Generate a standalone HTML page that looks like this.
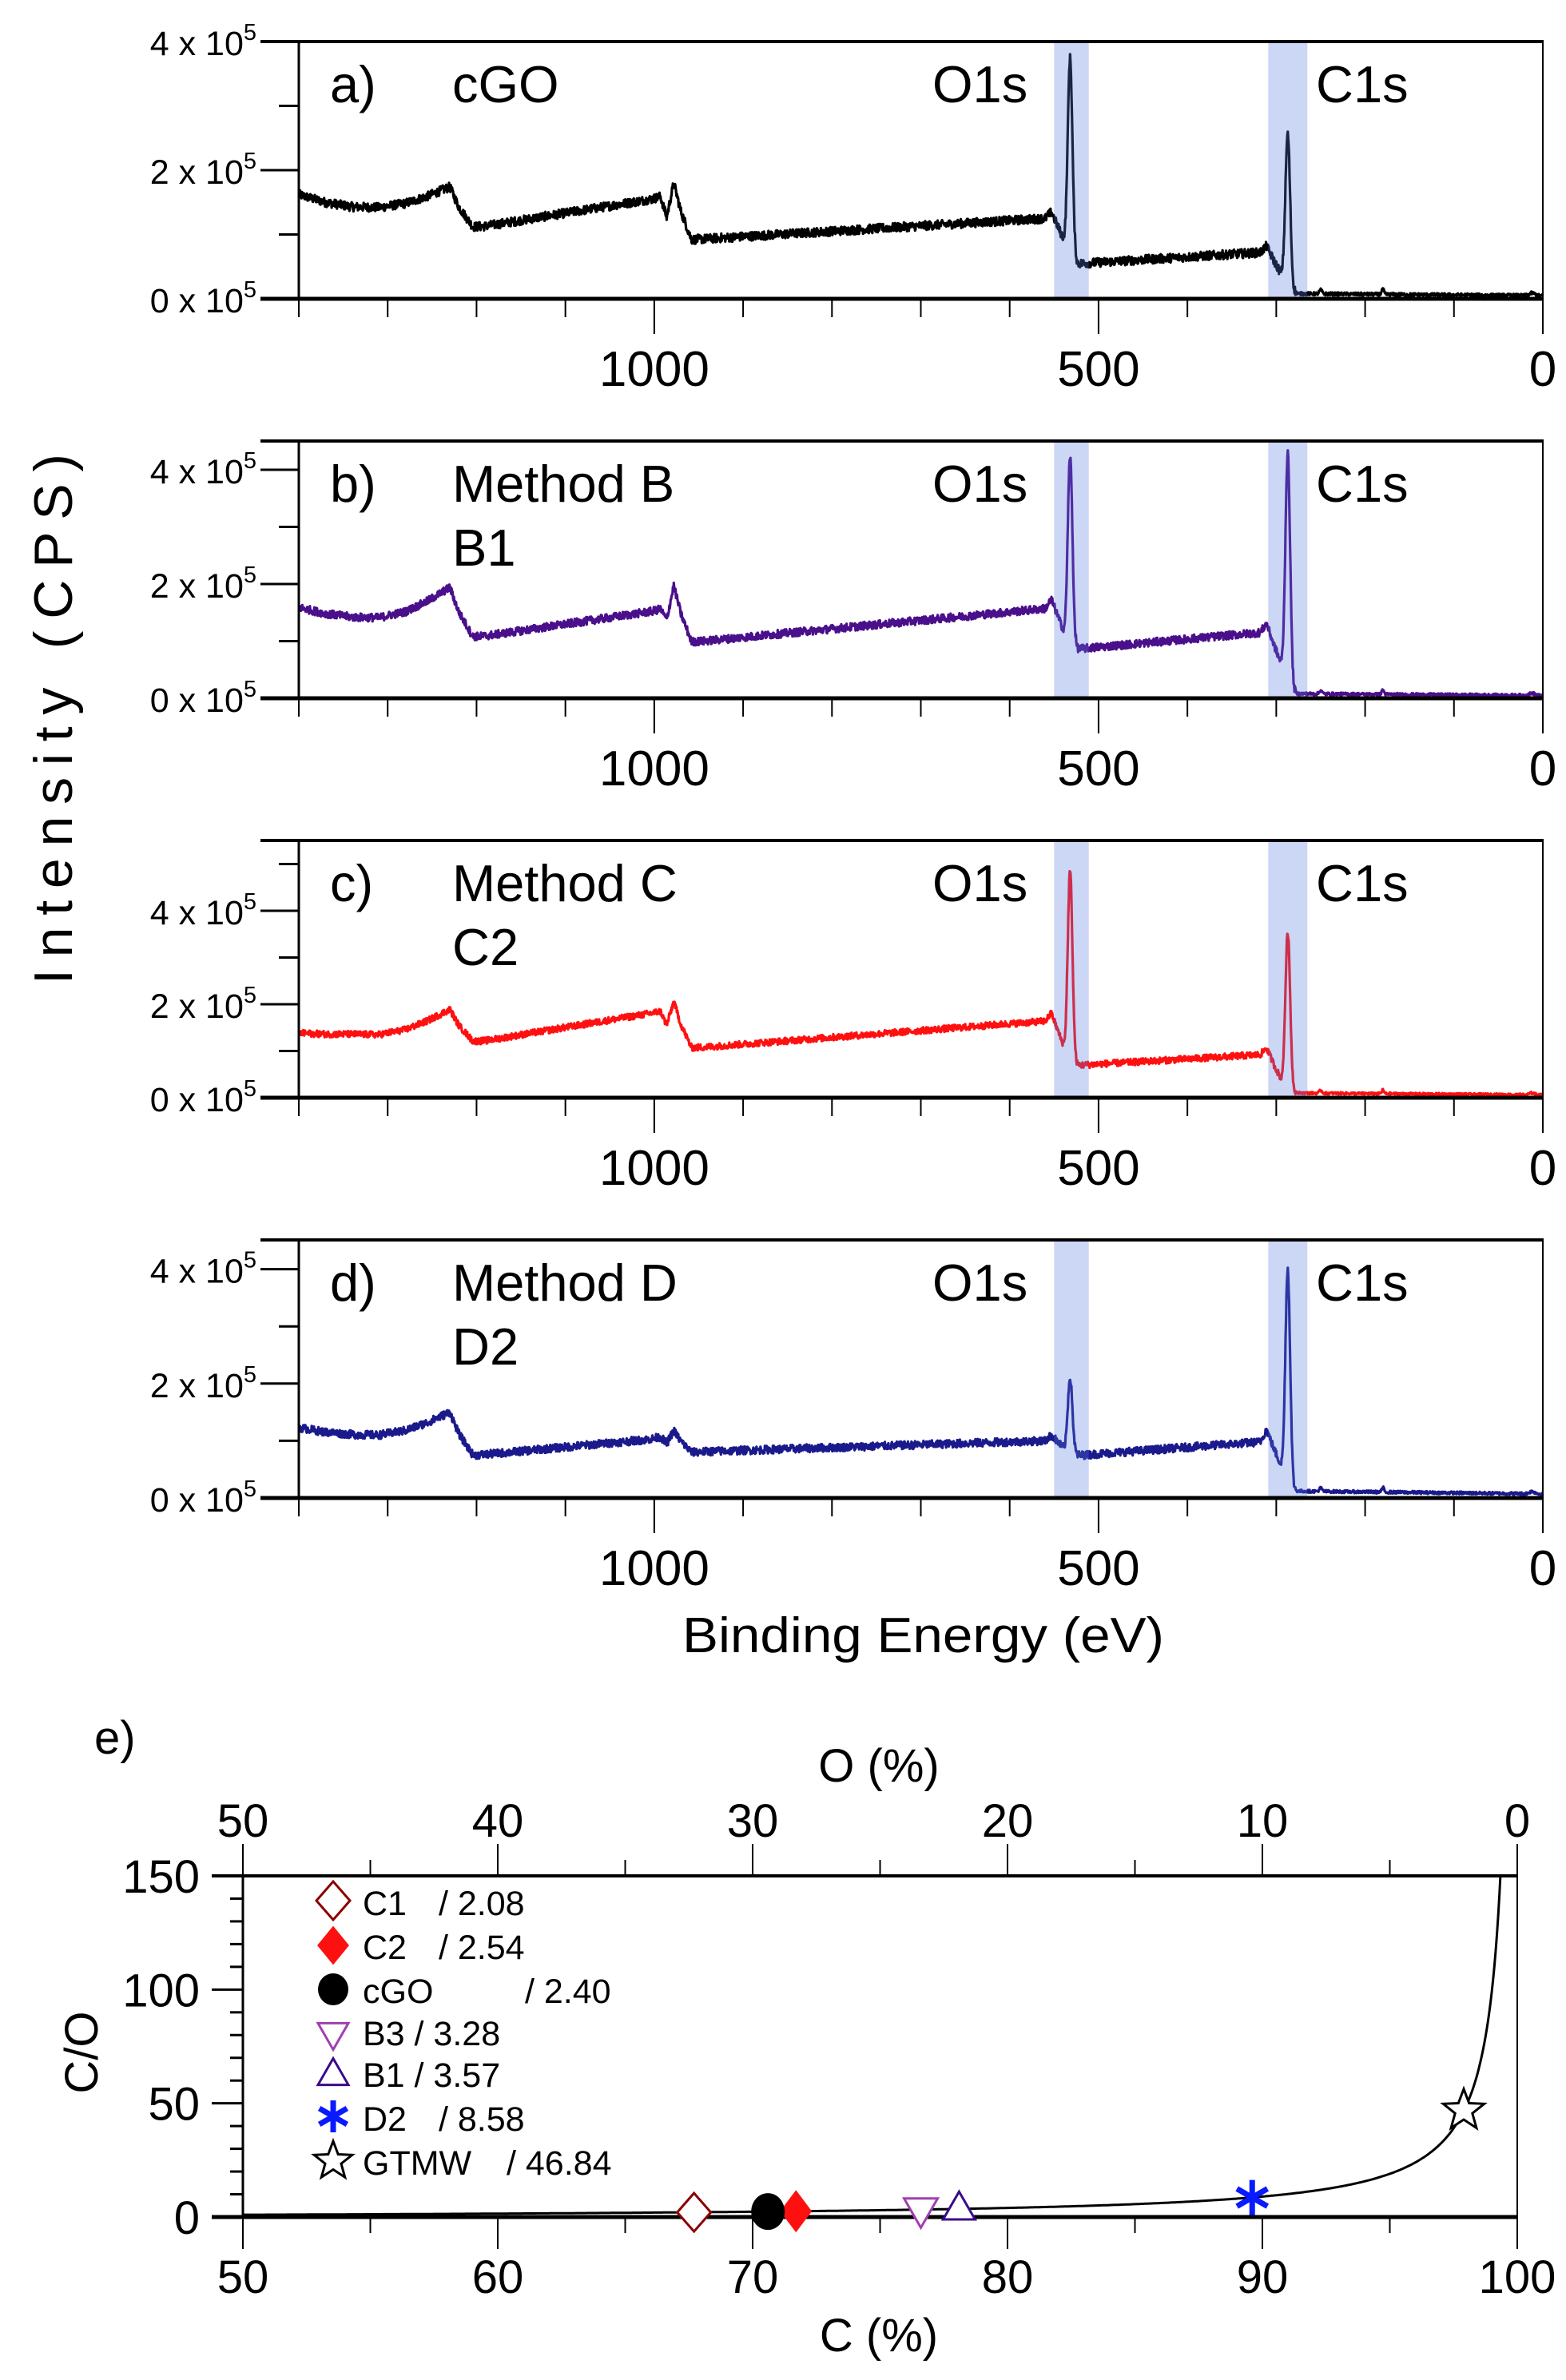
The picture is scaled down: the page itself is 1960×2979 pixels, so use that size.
<!DOCTYPE html>
<html><head><meta charset="utf-8"><style>
html,body{margin:0;padding:0;background:#fff;}
svg{display:block;font-family:"Liberation Sans",Arial,sans-serif;}
</style></head><body>
<svg id="s" width="1960" height="2979" viewBox="0 0 1960 2979" xmlns="http://www.w3.org/2000/svg">
<rect width="1960" height="2979" fill="#fff"/>
<g id="panels"></g>
<text x="0" y="0" font-size="68" textLength="664" lengthAdjust="spacing" text-anchor="middle" transform="translate(90,900) rotate(-90)">Intensity (CPS)</text>
<text x="854" y="2068" font-size="62" textLength="603" lengthAdjust="spacingAndGlyphs">Binding Energy (eV)</text>

<defs><clipPath id="ce"><rect x="304" y="2348" width="1595" height="430"/></clipPath></defs>
<text x="118" y="2195" font-size="58">e)</text>
<text x="1100" y="2230" font-size="58" text-anchor="middle">O (%)</text>
<text x="1100" y="2943" font-size="58" text-anchor="middle">C (%)</text>
<text x="0" y="0" font-size="58" text-anchor="middle" transform="translate(122,2569) rotate(-90)">C/O</text>
<g id="eaxes"></g>
<path id="curve" d="" fill="none" stroke="#000" stroke-width="3" clip-path="url(#ce)"/>
<g id="emark"></g>
<g font-size="43" id="legend">
<text x="454" y="2397">C1</text><text x="549" y="2397">/ 2.08</text>
<text x="454" y="2452">C2</text><text x="549" y="2452">/ 2.54</text>
<text x="454" y="2507">cGO</text><text x="657" y="2507">/ 2.40</text>
<text x="454" y="2560">B3 / 3.28</text>
<text x="454" y="2612">B1 / 3.57</text>
<text x="454" y="2667">D2</text><text x="549" y="2667">/ 8.58</text>
<text x="454" y="2722">GTMW</text><text x="634" y="2722">/ 46.84</text>
</g>
</svg>
<script>
(function(){
var NS="http://www.w3.org/2000/svg";
function el(tag,attrs,parent,txt){var e=document.createElementNS(NS,tag);for(var k in attrs)e.setAttribute(k,attrs[k]);if(txt!==undefined)e.textContent=txt;parent.appendChild(e);return e;}
var seed=12345;function rnd(){seed=(seed*1103515245+12345)%2147483648;return seed/2147483648;}
var X0=374,X1=1931;function xE(E){return X0+(1400-E)/1400*(X1-X0);}
var panels=[
 {top:52,zero:374,s:80.5,col:"#000",minor:[1,3],lab:"a)",n1:"cGO",n2:"",
  p:{L0:1.62,Lmin:1.42,P1:1.74,D1:1.12,R1:1.55,dp:1.27,P2:1.80,D2:0.92,R2:1.25,bO:1.35,dO:0.85,Opk:3.74,D3:0.55,R3:0.72,bC:0.82,dC:0.38,Cpk:2.56,tail:0.08}},
 {top:552,zero:874,s:71.5,col:"#4a0f8a",minor:[1,3],lab:"b)",n1:"Method B",n2:"B1",
  p:{L0:1.59,Lmin:1.41,P1:1.94,D1:1.08,R1:1.52,dp:1.38,P2:1.97,D2:0.99,R2:1.57,bO:1.73,dO:1.08,Opk:4.23,D3:0.87,R3:1.15,bC:1.31,dC:0.59,Cpk:4.27,tail:0.08}},
 {top:1052,zero:1374,s:58.5,col:"#ff1010",minor:[1,3,5],lab:"c)",n1:"Method C",n2:"C2",
  p:{L0:1.38,Lmin:1.35,P1:1.89,D1:1.21,R1:1.81,dp:1.55,P2:2.06,D2:1.07,R2:1.64,bO:1.81,dO:0.98,Opk:4.85,D3:0.70,R3:0.92,bC:1.07,dC:0.38,Cpk:3.54,tail:0.10}},
 {top:1552,zero:1875,s:71.6,col:"#1a1a8c",minor:[1,3],lab:"d)",n1:"Method D",n2:"D2",
  p:{L0:1.23,Lmin:1.10,P1:1.50,D1:0.75,R1:1.03,dp:0.95,P2:1.18,D2:0.80,R2:1.0,bO:1.10,dO:0.83,Opk:2.10,D3:0.75,R3:0.98,bC:1.20,dC:0.55,Cpk:4.0,tail:0.12}}
];
var G=document.getElementById("panels");
panels.forEach(function(P){
 var p=P.p;
 var k=[[1400,p.L0],[1370,p.L0-(p.L0-p.Lmin)*0.6],[1340,p.Lmin+0.01],[1310,p.Lmin],[1280,p.Lmin+(p.P1-p.Lmin)*0.2],[1255,p.Lmin+(p.P1-p.Lmin)*0.55],[1230,p.P1],[1220,(p.P1+p.D1)/2],[1204,p.D1],[1190,p.D1+0.01],
  [1003,p.R1],[993,p.R1+0.04],[986,p.dp],[978,p.P2],[970,(p.P2+p.D2)/2],[958,p.D2],[945,p.D2+0.01],
  [560,p.R2],[553,p.bO],[545,(p.bO+p.dO)/2],[537,p.dO],[533,p.dO],[524,p.D3],[518,p.D3],
  [318,p.R3],[311,p.bC],[303,(p.bC+p.dC)/2],[294,p.dC],[289,p.dC],[280,p.tail+0.04],[276,p.tail],[0,p.tail*0.6]];
 function base(E){for(var i=0;i<k.length-1;i++){if(E<=k[i][0]&&E>=k[i+1][0]){var t=(k[i][0]-E)/(k[i][0]-k[i+1][0]);return k[i][1]+t*(k[i+1][1]-k[i][1]);}}return p.tail*0.6;}
 var aO=p.Opk-base(532),aC=p.Cpk-base(287);
 function g(E,c,s){return Math.exp(-(E-c)*(E-c)/(2*s*s));}
 var d="";
 for(var E=1400;E>=0;E-=0.5){
  var v=base(E)+aO*g(E,532,2.6)+aC*g(E,287,2.6)+0.06*g(E,250,1.5)+0.08*g(E,180,1.2)+0.04*g(E,12,3);
  var amp=E>278?0.07:0.025; v+= (rnd()-0.5)*2*amp;
  var y=P.zero-v*P.s; d+=(d?"L":"M")+xE(E).toFixed(1)+" "+y.toFixed(1);
 }
 el("path",{d:d,fill:"none",stroke:P.col,"stroke-width":3.2,"stroke-linejoin":"round"},G);
 [[550,511],[309,265]].forEach(function(b){var xa=xE(b[0]),xb=xE(b[1]);
  el("rect",{x:xa,y:P.top,width:xb-xa,height:P.zero-P.top,fill:"rgba(85,118,222,0.3)"},G);});
 el("line",{x1:X0,y1:P.top,x2:X0,y2:P.zero,stroke:"#000","stroke-width":3},G);
 el("line",{x1:X1,y1:P.top,x2:X1,y2:P.zero,stroke:"#000","stroke-width":2},G);
 el("line",{x1:X0-48,y1:P.top,x2:X1+1,y2:P.top,stroke:"#000","stroke-width":4},G);
 el("line",{x1:X0-48,y1:P.zero,x2:X1+1,y2:P.zero,stroke:"#000","stroke-width":5},G);
 [0,2,4].forEach(function(v){var y=P.zero-v*P.s;
  el("line",{x1:X0-48,y1:y,x2:X0,y2:y,stroke:"#000","stroke-width":3},G);
  var t=el("text",{x:321,y:y+17,"font-size":43,"text-anchor":"end"},G);
  el("tspan",{},t,v+" x 10");el("tspan",{"font-size":29,dy:-19},t,"5");});
 P.minor.forEach(function(v){var y=P.zero-v*P.s;el("line",{x1:X0-25,y1:y,x2:X0,y2:y,stroke:"#000","stroke-width":3},G);});
 for(var e=1400;e>=0;e-=100){var maj=(e==1000||e==500||e==0);
  el("line",{x1:xE(e),y1:P.zero,x2:xE(e),y2:P.zero+(maj?44:23),stroke:"#000","stroke-width":2},G);}
 [1000,500,0].forEach(function(e){el("text",{x:xE(e),y:P.zero+109,"font-size":62,"text-anchor":"middle"},G,String(e));});
 el("text",{x:413,y:P.top+76,"font-size":65},G,P.lab);
 el("text",{x:566,y:P.top+76,"font-size":65},G,P.n1);
 if(P.n2)el("text",{x:566,y:P.top+156,"font-size":65},G,P.n2);
 el("text",{x:1167,y:P.top+76,"font-size":65},G,"O1s");
 el("text",{x:1647,y:P.top+76,"font-size":65},G,"C1s");
});
var EX0=304,EX1=1899,ET=2348,EB=2775,sc=(EB-ET)/150;
function xC(c){return EX0+(c-50)/50*(EX1-EX0);}function yR(r){return EB-r*sc;}
var A=document.getElementById("eaxes");
el("line",{x1:EX0,y1:ET,x2:EX0,y2:EB,stroke:"#000","stroke-width":3},A);
el("line",{x1:EX1,y1:ET,x2:EX1,y2:EB,stroke:"#000","stroke-width":2},A);
el("line",{x1:EX0-39,y1:ET,x2:EX1+1,y2:ET,stroke:"#000","stroke-width":4},A);
el("line",{x1:EX0-39,y1:EB,x2:EX1+1,y2:EB,stroke:"#000","stroke-width":5},A);
for(var r=0;r<=150;r+=10){var maj=r%50==0;el("line",{x1:EX0-(maj?39:16),y1:yR(r),x2:EX0,y2:yR(r),stroke:"#000","stroke-width":3},A);
 if(maj)el("text",{x:250,y:yR(r)+21,"font-size":58,"text-anchor":"end"},A,String(r));}
for(var c=50;c<=100;c+=5){var maj=c%10==0;
 el("line",{x1:xC(c),y1:EB,x2:xC(c),y2:EB+(maj?40:20),stroke:"#000","stroke-width":2},A);
 el("line",{x1:xC(c),y1:ET,x2:xC(c),y2:ET-(maj?40:20),stroke:"#000","stroke-width":2},A);
 if(maj){el("text",{x:xC(c),y:2870,"font-size":58,"text-anchor":"middle"},A,String(c));
  el("text",{x:xC(c),y:2299,"font-size":58,"text-anchor":"middle"},A,String(100-c));}}
var d="";for(var c=50;c<=99.6;c+=0.05){var y=yR(c/(100-c));d+=(d?"L":"M")+xC(c).toFixed(1)+" "+y.toFixed(1);}
document.getElementById("curve").setAttribute("d",d);
var M=document.getElementById("emark");var L=document.getElementById("legend");
function diamond(par,x,y,w,h,fill,stroke){el("polygon",{points:[x,y-h,x+w,y,x,y+h,x-w,y].join(" "),fill:fill,stroke:stroke,"stroke-width":3},par);}
function tri(par,x,y,s,up,col){var h=s*0.87;var pts=up?[x,y-h*0.62,x+s/2,y+h*0.38,x-s/2,y+h*0.38]:[x,y+h*0.62,x+s/2,y-h*0.38,x-s/2,y-h*0.38];el("polygon",{points:pts.join(" "),fill:"#fff",stroke:col,"stroke-width":3},par);}
function ast(par,x,y,r,col){for(var i=0;i<3;i++){var a=Math.PI/2+i*Math.PI/3;el("line",{x1:x+r*Math.cos(a),y1:y-r*Math.sin(a),x2:x-r*Math.cos(a),y2:y+r*Math.sin(a),stroke:col,"stroke-width":7},par);}}
function star(par,x,y,R,col){var pts=[];for(var i=0;i<10;i++){var rr=i%2?R*0.42:R;var a=-Math.PI/2+i*Math.PI/5;pts.push((x+rr*Math.cos(a)).toFixed(1),(y+rr*Math.sin(a)).toFixed(1));}el("polygon",{points:pts.join(" "),fill:"#fff",stroke:col,"stroke-width":3},par);}
diamond(M,xC(67.7),yR(2.08),21,24,"#fff","#8b0000");
diamond(M,xC(71.7),yR(2.54),18,24,"#ff1010","#ff1010");
el("ellipse",{cx:xC(70.6),cy:yR(2.40),rx:21,ry:23,fill:"#000"},M);
tri(M,xC(76.6),yR(3.28),42,false,"#a040b0");
tri(M,xC(78.1),yR(3.57),40,true,"#3a0a8a");
ast(M,xC(89.6),yR(8.58),22,"#0a1aff");
star(M,xC(97.9),yR(46.84),27,"#000");
var lx=417;
diamond(L,lx,2379,21,24,"#fff","#8b0000");
diamond(L,lx,2435,18,22,"#ff1010","#ff1010");
el("ellipse",{cx:lx,cy:2490,rx:19,ry:20,fill:"#000"},L);
tri(L,lx,2545,38,false,"#a040b0");
tri(L,lx,2597,38,true,"#3a0a8a");
ast(L,lx,2649,20,"#0a1aff");
star(L,lx,2705,25,"#000");
})();
</script>
</body></html>
